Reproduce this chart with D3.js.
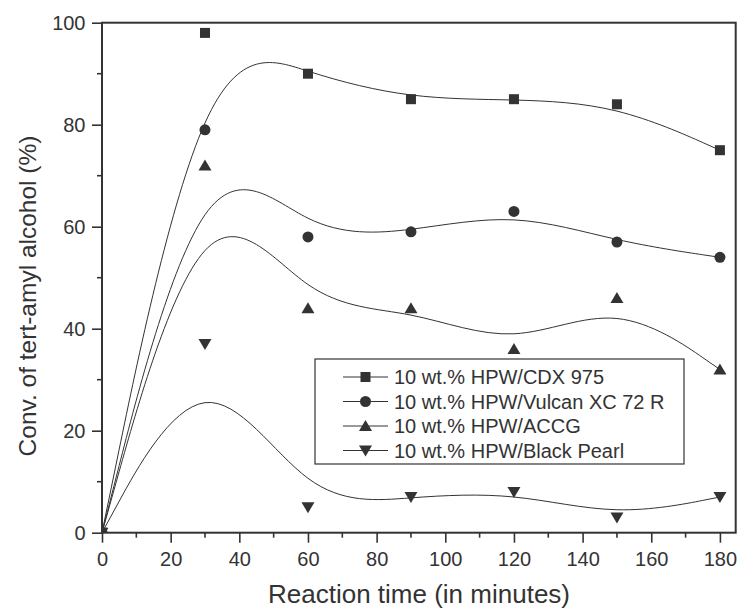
<!DOCTYPE html>
<html><head><meta charset="utf-8">
<script src="https://cdn.jsdelivr.net/npm/d3@7"></script>
<style>body{margin:0;background:#fff}svg{display:block}text{font-family:"Liberation Sans",Arial,Helvetica,sans-serif;fill:#333}</style>
</head><body>
<svg id="c" width="737" height="609"></svg>
<script>
const times = [0, 30, 60, 90, 120, 150, 180];
const seriesNames = ["10 wt.% HPW/CDX 975", "10 wt.% HPW/Vulcan XC 72 R", "10 wt.% HPW/ACCG", "10 wt.% HPW/Black Pearl"];
const cdx975 = [0, 98, 90, 85, 85, 84, 75];
const vulcan = [0, 79, 58, 59, 63, 57, 54];
const accg = [0, 72, 44, 44, 36, 46, 32];
const blackPearl = [0, 37, 5, 7, 8, 3, 7];
const markerTypes = ["square", "circle", "triangle", "triangleDown"];
const xTicks = [0, 20, 40, 60, 80, 100, 120, 140, 160, 180];
const yTicks = [0, 20, 40, 60, 80, 100];

const seriesValues = [cdx975, vulcan, accg, blackPearl];
const svg = d3.select("#c");
const L = 102, R = 735.7, T = 22.7, B = 532.7;
const x = d3.scaleLinear().domain([0, 184.8]).range([L, 736.4]);
const y = d3.scaleLinear().domain([0, 100]).range([B, T]);
const ink = "#333";

svg.append("defs").append("clipPath").attr("id", "clip")
  .append("rect").attr("x", L).attr("y", T).attr("width", R - L).attr("height", B - T);

// minor ticks
const xMinor = d3.range(10, 181, 20);
const yMinor = d3.range(10, 100, 20);
svg.append("g").selectAll("line").data(xMinor).join("line")
  .attr("x1", d => x(d)).attr("x2", d => x(d)).attr("y1", B).attr("y2", B + 5)
  .attr("stroke", ink).attr("stroke-width", 1.6);
svg.append("g").selectAll("line").data(yMinor).join("line")
  .attr("y1", d => y(d)).attr("y2", d => y(d)).attr("x1", L).attr("x2", L - 5)
  .attr("stroke", ink).attr("stroke-width", 1.6);

// axes
const xAxis = d3.axisBottom(x).tickValues(xTicks).tickSize(10).tickPadding(6).tickSizeOuter(0);
const gx = svg.append("g").attr("transform", `translate(0,${B})`).call(xAxis);
gx.select(".domain").remove();
gx.selectAll("line").attr("stroke", ink).attr("stroke-width", 1.6);
gx.selectAll("text").attr("font-size", 20).attr("fill", ink).attr("y", 33.5).attr("dy", 0);

const yAxis = d3.axisLeft(y).tickValues(yTicks).tickSize(10).tickPadding(6).tickSizeOuter(0);
const gy = svg.append("g").attr("transform", `translate(${L},0)`).call(yAxis);
gy.select(".domain").remove();
gy.selectAll("line").attr("stroke", ink).attr("stroke-width", 1.6);
gy.selectAll("text").attr("font-size", 20).attr("fill", ink).attr("x", -16.5).attr("dy", "0.35em");

// frame
svg.append("rect").attr("x", L).attr("y", T).attr("width", R - L).attr("height", B - T)
  .attr("fill", "none").attr("stroke", ink).attr("stroke-width", 2);

// curves
const line = d3.line().x(d => x(d[0])).y(d => y(d[1])).curve(d3.curveBasis);
const plot = svg.append("g").attr("clip-path", "url(#clip)");
seriesValues.forEach(vals => {
  const pts = times.map((t, i) => [t, vals[i]]);
  plot.append("path").attr("d", line(pts)).attr("fill", "none").attr("stroke", ink).attr("stroke-width", 1);
});

function marker(g, type, cx, cy) {
  if (type === "square") {
    g.append("rect").attr("x", cx - 5).attr("y", cy - 5).attr("width", 10).attr("height", 10).attr("fill", ink);
  } else if (type === "circle") {
    g.append("circle").attr("cx", cx).attr("cy", cy).attr("r", 5.5).attr("fill", ink);
  } else if (type === "triangle") {
    g.append("path").attr("d", `M${cx},${cy - 6}L${cx + 6.5},${cy + 5}L${cx - 6.5},${cy + 5}Z`).attr("fill", ink);
  } else {
    g.append("path").attr("d", `M${cx},${cy + 6}L${cx + 6.5},${cy - 5}L${cx - 6.5},${cy - 5}Z`).attr("fill", ink);
  }
}
seriesValues.forEach((vals, s) => {
  times.forEach((t, i) => marker(plot, markerTypes[s], x(t), y(vals[i])));
});

// legend
const lg = svg.append("g");
lg.append("rect").attr("x", 315).attr("y", 359).attr("width", 369).attr("height", 105)
  .attr("fill", "#fff").attr("stroke", ink).attr("stroke-width", 1.2);
seriesNames.forEach((name, i) => {
  const ly = 377 + i * 24.5;
  lg.append("line").attr("x1", 343).attr("x2", 388).attr("y1", ly).attr("y2", ly).attr("stroke", ink).attr("stroke-width", 1);
  marker(lg, markerTypes[i], 365.5, ly);
  lg.append("text").attr("x", 394).attr("y", ly).attr("dy", "0.35em").attr("font-size", 20).text(name);
});

// titles
svg.append("text").attr("x", 419).attr("y", 603).attr("text-anchor", "middle")
  .attr("font-size", 26).text("Reaction time (in minutes)");
svg.append("text").attr("transform", `translate(36,296) rotate(-90)`).attr("text-anchor", "middle")
  .attr("font-size", 24.5).text("Conv. of tert-amyl alcohol (%)");
</script>
</body></html>
